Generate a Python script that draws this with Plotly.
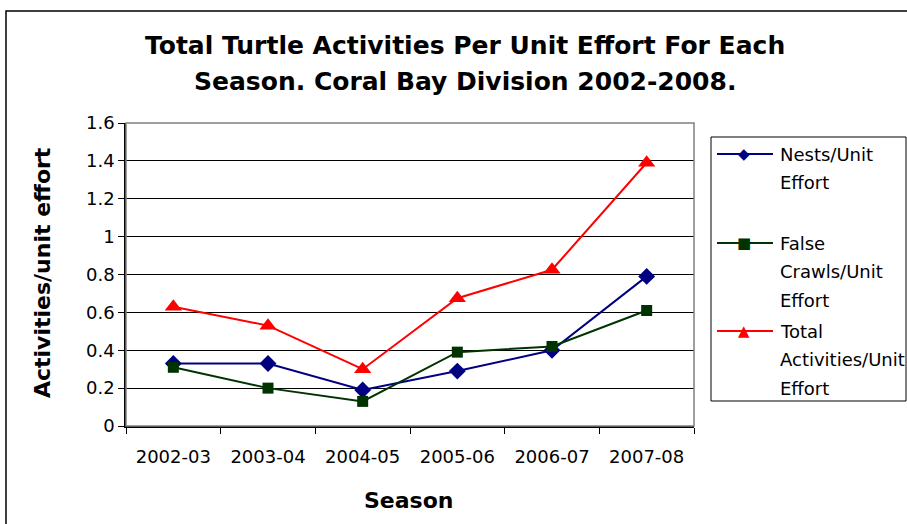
import plotly.graph_objects as go

# data
seasons = ['2002-03', '2003-04', '2004-05', '2005-06', '2006-07', '2007-08']
nests = [0.33, 0.33, 0.19, 0.29, 0.40, 0.79]
false_crawls = [0.31, 0.20, 0.13, 0.39, 0.42, 0.61]
total = [0.63, 0.53, 0.30, 0.675, 0.825, 1.39]

W, H = 907, 524
L, R, T, B = 126, 694, 123, 426   # plot area in pixels


def px(x):
    return (x - L) / (R - L)


def py(y):
    return (B - y) / (B - T)


FONT = 'DejaVu Sans, Arial, sans-serif'

fig = go.Figure()
fig.add_trace(go.Scatter(x=seasons, y=nests, mode='lines+markers', name='Nests/Unit Effort',
                         line=dict(color='#000080', width=2),
                         marker=dict(symbol='diamond', size=13, color='#000080')))
fig.add_trace(go.Scatter(x=seasons, y=false_crawls, mode='lines+markers', name='False Crawls/Unit Effort',
                         line=dict(color='#003300', width=2),
                         marker=dict(symbol='square', size=11, color='#003300')))
fig.add_trace(go.Scatter(x=seasons, y=total, mode='lines+markers', name='Total Activities/Unit Effort',
                         line=dict(color='#ff0000', width=2),
                         marker=dict(symbol='triangle-up', size=15, color='#ff0000')))

shapes = [
    # outer chart border
    dict(type='rect', xref='paper', yref='paper', x0=px(6), x1=px(960), y0=py(11), y1=py(600),
         line=dict(color='black', width=1.5), layer='below'),
    # plot area border (top / right in grey)
    dict(type='rect', xref='paper', yref='paper', x0=0, x1=1, y0=0, y1=1,
         line=dict(color='#808080', width=1.5)),
    # legend box
    dict(type='rect', xref='paper', yref='paper', x0=px(711), x1=px(906), y0=py(137), y1=py(401),
         line=dict(color='black', width=1)),
]

annotations = [
    dict(text='<b>Total Turtle Activities Per Unit Effort For Each</b>', x=px(465), y=py(46), font=dict(size=25)),
    dict(text='<b>Season. Coral Bay Division 2002-2008.</b>', x=px(465), y=py(81), font=dict(size=25)),
    dict(text='<b>Season</b>', x=px(408), y=py(500), font=dict(size=22)),
    dict(text='<b>Activities/unit effort</b>', x=px(42), y=py(273), textangle=-90, font=dict(size=22)),
]
for a in annotations:
    a.update(xref='paper', yref='paper', showarrow=False, xanchor='center', yanchor='middle')
    a['font'] = dict(family=FONT, color='black', size=a['font']['size'])

# custom legend
legend_rows = [
    ('#000080', '◆', 154, ['Nests/Unit', 'Effort']),
    ('#003300', '■', 243, ['False', 'Crawls/Unit', 'Effort']),
    ('#ff0000', '▲', 331, ['Total', 'Activities/Unit', 'Effort']),
]
for color, sym, y0, lines in legend_rows:
    shapes.append(dict(type='line', xref='paper', yref='paper', x0=px(717), x1=px(773),
                       y0=py(y0), y1=py(y0), line=dict(color=color, width=2)))
    annotations.append(dict(text=sym, xref='paper', yref='paper', x=px(744), y=py(y0),
                            showarrow=False, xanchor='center', yanchor='middle',
                            font=dict(family='DejaVu Sans', size=15, color=color)))
    for i, t in enumerate(lines):
        annotations.append(dict(text=t, xref='paper', yref='paper', x=px(778), y=py(y0 + i * 28.5),
                                showarrow=False, xanchor='left', yanchor='middle',
                                font=dict(family=FONT, size=18, color='black')))

fig.update_layout(
    width=W, height=H,
    margin=dict(l=L, r=W - R, t=T, b=H - B),
    paper_bgcolor='white', plot_bgcolor='white',
    showlegend=False,
    font=dict(family=FONT, color='black', size=18),
    shapes=shapes,
    annotations=annotations,
    xaxis=dict(type='category', showline=True, linecolor='black', linewidth=1.5,
               ticks='outside', tickson='boundaries', ticklen=6, tickcolor='black',
               showgrid=False, ticklabelstandoff=14, tickfont=dict(size=18),
               range=[-0.5, 5.5]),
    yaxis=dict(range=[0, 1.6], dtick=0.2, showline=True, linecolor='black', linewidth=1.5,
               ticks='outside', ticklen=6, tickcolor='black',
               showgrid=True, gridcolor='black', gridwidth=1, zeroline=False,
               tickfont=dict(size=18)),
)

fig.write_html('out.html', config={'displayModeBar': False},
               post_script="document.body.style.margin='0';")
